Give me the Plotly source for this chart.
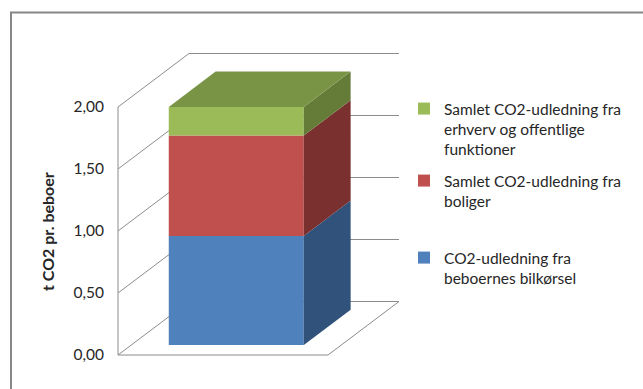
import plotly.graph_objects as go

# ---------------- data ----------------
series_names = [
    "CO2-udledning fra<br>beboernes bilkørsel",
    "Samlet CO2-udledning fra<br>boliger",
    "Samlet CO2-udledning fra<br>erhverv og offentlige<br>funktioner",
]
series_values = [0.88, 0.81, 0.23]
front_colors = ["#4F81BD", "#C0504D", "#9BBB59"]
side_colors = ["#30527B", "#7A302E", "#657C38"]
top_colors = ["#3E6A9E", "#9E3F3C", "#7A9446"]
tick_values = [0.0, 0.5, 1.0, 1.5, 2.0]
axis_title = "t CO2 pr. beboer"

# ---------------- layout geometry (pixels -> axis units) ----------------
W, H = 643, 389
PX_X, PX_Y = 210.0, 124.0      # pixels per x-unit / per value-unit
ORIG_X, ORIG_Y = 118.0, 355.0  # pixel position of front-left floor corner
DX, DY = 71.0 / PX_X, 53.5 / PX_Y   # full depth of the 3-D box in axis units

x_range = [-ORIG_X / PX_X, (W - ORIG_X) / PX_X]
y_range = [-(H - ORIG_Y) / PX_Y, ORIG_Y / PX_Y]

bar_center, bar_width = 0.5, 0.643
front_depth, bar_depth = 0.187, 0.66

FONT = "Lato"
TXT = "#262626"
GRID = "#8C8C8C"

fig = go.Figure()

# ---------------- walls / gridlines (below the bars) ----------------
shapes = []
def seg_path(pts):
    return "M " + " L ".join(f"{x},{y}" for x, y in pts)

for v in tick_values:
    shapes.append(dict(type="path", xref="x", yref="y", layer="below",
                       path=seg_path([(0, v), (DX, v + DY), (1 + DX, v + DY)]),
                       line=dict(color=GRID, width=1)))
# front vertical axis, floor front and right edges
shapes.append(dict(type="path", xref="x", yref="y", layer="below",
                   path=seg_path([(0, tick_values[-1]), (0, 0), (1, 0), (1 + DX, DY)]),
                   line=dict(color=GRID, width=1)))
# outer chart border
shapes.append(dict(type="rect", xref="paper", yref="paper",
                   x0=11 / W, x1=1.2, y0=-0.2, y1=1 - 12.5 / H,
                   line=dict(color="#878787", width=2), fillcolor="rgba(0,0,0,0)"))

# ---------------- stacked 3-D bar ----------------
xl = bar_center - bar_width / 2 + front_depth * DX
xr = bar_center + bar_width / 2 + front_depth * DX
y_off = front_depth * DY
ddx, ddy = bar_depth * DX, bar_depth * DY

legend_ids = ["legend3", "legend2", "legend"]
cum = 0.0
for i, (name, val) in enumerate(zip(series_names, series_values)):
    lo, hi = cum, cum + val
    # front face
    fig.add_trace(go.Bar(
        x=[(xl + xr) / 2], y=[val], base=[lo + y_off], width=[xr - xl],
        marker=dict(color=front_colors[i], line=dict(width=0)),
        name=name, legend=legend_ids[i], showlegend=True, hoverinfo="skip"))
    # side face
    fig.add_trace(go.Scatter(
        x=[xr, xr + ddx, xr + ddx, xr, xr],
        y=[lo + y_off, lo + y_off + ddy, hi + y_off + ddy, hi + y_off, lo + y_off],
        fill="toself", fillcolor=side_colors[i], mode="lines",
        line=dict(width=0), showlegend=False, hoverinfo="skip"))
    cum = hi

# top face of the stack
top = cum + y_off
fig.add_trace(go.Scatter(
    x=[xl, xr, xr + ddx, xl + ddx, xl],
    y=[top, top, top + ddy, top + ddy, top],
    fill="toself", fillcolor=top_colors[-1], mode="lines",
    line=dict(width=0), showlegend=False, hoverinfo="skip"))

# ---------------- layout ----------------
LEG_SIZE = 15.5
def leg(top_px):
    return dict(x=404 / W, xanchor="left", y=1 - top_px / H, yanchor="top",
                bgcolor="rgba(0,0,0,0)", borderwidth=0, valign="top",
                font=dict(family=FONT, size=LEG_SIZE, color=TXT), itemclick=False)

fig.update_layout(
    width=W, height=H,
    margin=dict(l=0, r=0, t=0, b=0),
    paper_bgcolor="white", plot_bgcolor="white",
    barmode="overlay",
    separators=",.",
    font=dict(family=FONT, size=15, color=TXT),
    xaxis=dict(range=x_range, visible=False, fixedrange=True),
    yaxis=dict(range=y_range, anchor="free", position=ORIG_X / W, side="left",
               tickvals=tick_values, tickformat=".2f", ticks="",
               ticklabelstandoff=14, showgrid=False, zeroline=False,
               showline=False, fixedrange=True,
               tickfont=dict(family=FONT, size=15.5, color=TXT)),
    shapes=shapes,
    legend=leg(92),
    legend2=leg(164),
    legend3=leg(241),
    annotations=[dict(text=f"<b>{axis_title}</b>", textangle=-90,
                      xref="paper", yref="paper", x=47 / W, y=1 - 232 / H,
                      xanchor="center", yanchor="middle", showarrow=False,
                      font=dict(family=FONT, size=16, color=TXT))],
)

fig.write_html("out.html")
